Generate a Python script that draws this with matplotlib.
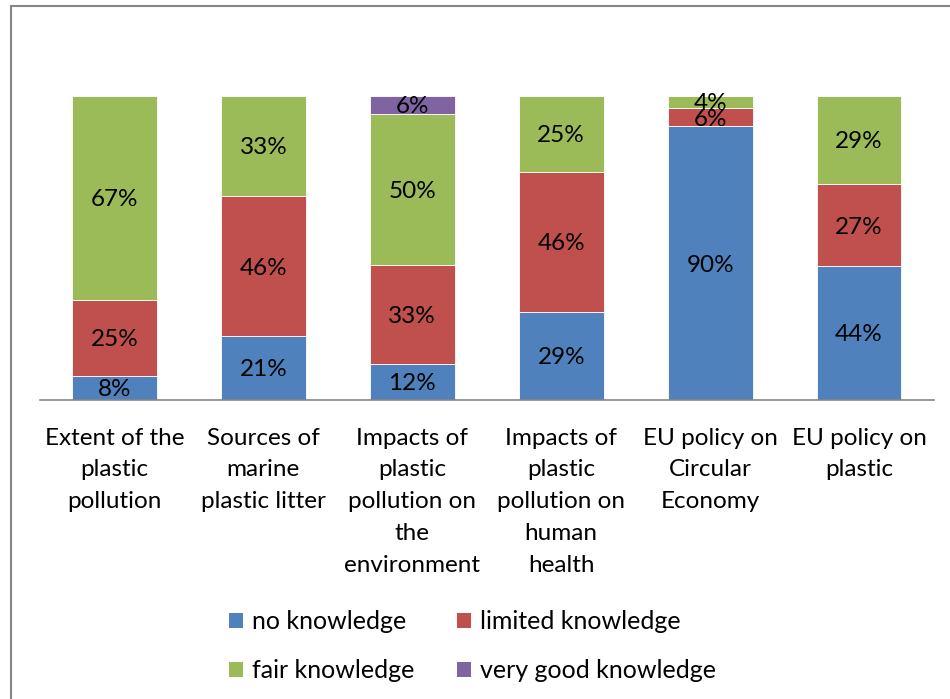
import matplotlib
matplotlib.use("Agg")
import matplotlib.pyplot as plt
from matplotlib.patches import Rectangle, Patch
import numpy as np

plt.rcParams['font.family'] = ['Lato', 'DejaVu Sans']

categories = ["Extent of the\nplastic\npollution",
              "Sources of\nmarine\nplastic litter",
              "Impacts of\nplastic\npollution on\nthe\nenvironment",
              "Impacts of\nplastic\npollution on\nhuman\nhealth",
              "EU policy on\nCircular\nEconomy",
              "EU policy on\nplastic"]
series_names = ["no knowledge", "limited knowledge", "fair knowledge", "very good knowledge"]
no_knowledge = [8, 21, 12, 29, 90, 44]
limited_knowledge = [25, 46, 33, 46, 6, 27]
fair_knowledge = [67, 33, 50, 25, 4, 29]
very_good_knowledge = [0, 0, 6, 0, 0, 0]
colors = ["#4F81BD", "#C0504D", "#9BBB59", "#8064A2"]

series = [no_knowledge, limited_knowledge, fair_knowledge, very_good_knowledge]
data = np.array(series, dtype=float)
totals = data.sum(axis=0)
frac = data / totals

fig = plt.figure(figsize=(9.5, 6.99), dpi=100)
W, H = 950, 699
ax = fig.add_axes([40 / W, 1 - 400 / H, (933.5 - 40) / W, (400 - 96) / H])

x = np.arange(len(categories))
bottom = np.zeros(len(categories))
for vals, fr, col in zip(series, frac, colors):
    ax.bar(x, fr, 0.57, bottom=bottom, color=col, edgecolor="white", linewidth=0.6)
    for xi, v, f, b in zip(x, vals, fr, bottom):
        if v > 0:
            ax.text(xi, b + f / 2 - 0.006, f"{v}%", ha="center", va="center", fontsize=17.5, color="black")
    bottom += fr

ax.set_xlim(-0.5, len(categories) - 0.5)
ax.set_ylim(0, 1)
ax.set_yticks([])
ax.set_xticks(x)
ax.set_xticklabels(categories, fontsize=17.5, linespacing=1.63)
ax.tick_params(axis="x", length=0, pad=20)
for s in ["left", "right", "top"]:
    ax.spines[s].set_visible(False)
ax.spines["bottom"].set_color("#868686")
ax.spines["bottom"].set_linewidth(1.2)

handles = [Patch(facecolor=c) for c in colors]
order = [0, 2, 1, 3]
fig.legend([handles[i] for i in order], [series_names[i] for i in order],
           ncol=2, loc="center", bbox_to_anchor=(472.5 / W, 1 - 646 / H),
           frameon=False, fontsize=18, handlelength=0.55, handleheight=0.55,
           handletextpad=0.35, columnspacing=1.74, labelspacing=1.05)

fig.patches.append(Rectangle((11 / W, -0.1), 1.2, 1.1 - 6 / H, transform=fig.transFigure,
                             fill=False, edgecolor="#868686", linewidth=1.5))

fig.savefig("out.png", dpi=100)
